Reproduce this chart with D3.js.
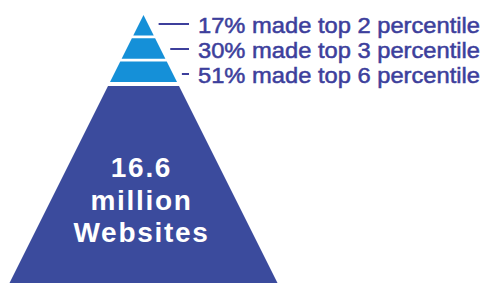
<!DOCTYPE html>
<html>
<head>
<meta charset="utf-8">
<script src="https://cdn.jsdelivr.net/npm/d3@7"></script>
<style>
  html, body { margin: 0; padding: 0; background: #ffffff; }
  svg { display: block; }
</style>
</head>
<body>
<svg id="chart" width="487" height="283"></svg>
<script>
// ---- data ----
const tiers = ["top2", "top3", "top6"];
const tierShares = [17, 30, 51];
const tierPercentiles = [2, 3, 6];
const baseValue = 16.6;
const baseLines = ["16.6", "million", "Websites"];

// ---- layout ----
const W = 487, H = 283;
const apexX = 143.5, apexY = 15;
const slope = 0.5;           // half-width per pixel of depth
const baseTop = 86, baseBottom = 283;

const svg = d3.select("#chart");

const y = d3.scaleBand()
  .domain(tiers)
  .range([apexY, 82])
  .paddingInner(0.12)
  .paddingOuter(0);

// label baselines
const yLab = d3.scalePoint()
  .domain(tiers)
  .range([33, 83]);

const halfW = yy => slope * (yy - apexY);

function trap(y0, y1) {
  const p = d3.path();
  const a = halfW(y0), b = halfW(y1);
  p.moveTo(apexX - a, y0);
  p.lineTo(apexX + a, y0);
  p.lineTo(apexX + b, y1);
  p.lineTo(apexX - b, y1);
  p.closePath();
  return p.toString();
}

const textColor = "#3d3f9c";

// tiers
svg.append("g").selectAll("path")
  .data(tiers)
  .join("path")
  .attr("d", t => trap(y(t), y(t) + y.bandwidth()))
  .attr("fill", "#1590d8");

// base
svg.append("path")
  .attr("d", trap(baseTop, baseBottom))
  .attr("fill", "#3b4b9d");

// base text
svg.append("text")
  .attr("x", apexX - 2)
  .attr("text-anchor", "middle")
  .attr("font-family", "Liberation Sans, Arial, sans-serif")
  .attr("font-weight", "bold")
  .attr("font-size", 28)
  .attr("letter-spacing", 1.7)
  .attr("fill", "#ffffff")
  .selectAll("tspan")
  .data(baseLines)
  .join("tspan")
  .attr("x", apexX - 2)
  .attr("y", (d, i) => 177 + i * 32.5)
  .text(d => d);

// labels
const lab = svg.append("g").selectAll("g")
  .data(tiers)
  .join("g");

lab.append("line")
  .attr("x1", t => apexX + halfW(y(t) + y.bandwidth() / 2) + 10)
  .attr("x2", 189)
  .attr("y1", t => yLab(t) - 9)
  .attr("y2", t => yLab(t) - 9)
  .attr("stroke", textColor)
  .attr("stroke-width", 2);

lab.append("text")
  .attr("x", 198)
  .attr("y", t => yLab(t))
  .attr("font-family", "Liberation Sans, Arial, sans-serif")
  .attr("font-size", 21.5)
  .attr("textLength", 282)
  .attr("lengthAdjust", "spacingAndGlyphs")
  .attr("fill", textColor)
  .attr("stroke", textColor)
  .attr("stroke-width", 0.5)
  .text((t, i) => `${tierShares[i]}% made top ${tierPercentiles[i]} percentile`);
</script>
</body>
</html>
